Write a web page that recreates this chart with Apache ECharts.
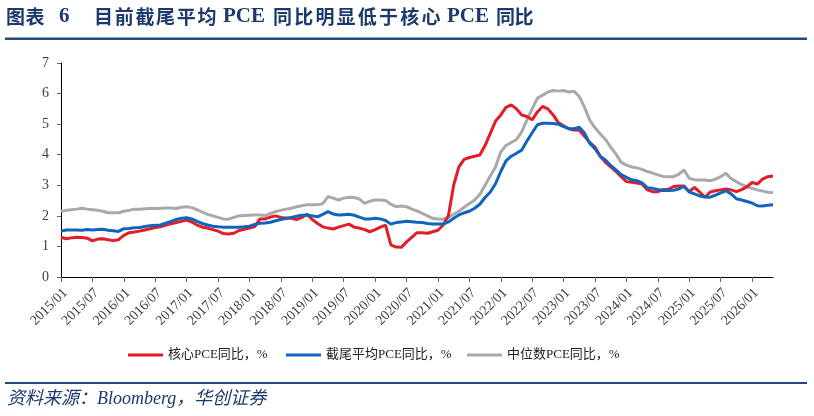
<!DOCTYPE html>
<html>
<head>
<meta charset="utf-8">
<script src="https://cdn.jsdelivr.net/npm/echarts@6/dist/echarts.min.js"></script>
<style>
  html, body { margin: 0; padding: 0; background: #fff; }
  #chart { width: 814px; height: 416px; }
</style>
</head>
<body>
<div id="chart"></div>
<script>
// 月度类目 2015/01 - 2026/05
var months = [];
for (var y = 2015; y <= 2026; y++) {
  for (var m = 1; m <= 12; m++) {
    if (y === 2026 && m > 5) break;
    months.push(y + '/' + (m < 10 ? '0' + m : m));
  }
}

// 核心PCE同比，%
var corePce = [
  1.30, 1.25, 1.28, 1.30, 1.29, 1.27, 1.18, 1.24, 1.25, 1.22, 1.19, 1.22,
  1.36, 1.45, 1.47, 1.50, 1.54, 1.58, 1.62, 1.64, 1.70, 1.74, 1.78, 1.82,
  1.86, 1.80, 1.70, 1.63, 1.60, 1.55, 1.50, 1.42, 1.41, 1.43, 1.52, 1.56,
  1.60, 1.65, 1.90, 1.90, 1.96, 2.00, 1.95, 1.92, 1.92, 1.88, 1.95, 2.05,
  1.88, 1.75, 1.64, 1.60, 1.57, 1.63, 1.68, 1.73, 1.63, 1.60, 1.55, 1.48,
  1.55, 1.63, 1.70, 1.05, 0.98, 0.97, 1.15, 1.30, 1.45, 1.45, 1.43, 1.48,
  1.53, 1.70, 2.00, 3.00, 3.60, 3.85, 3.91, 3.95, 3.99, 4.30, 4.70, 5.10,
  5.30, 5.55, 5.63, 5.50, 5.30, 5.25, 5.14, 5.40, 5.58, 5.50, 5.30, 5.05,
  4.95, 4.85, 4.81, 4.80, 4.60, 4.40, 4.25, 3.95, 3.75, 3.60, 3.45, 3.28,
  3.12, 3.10, 3.07, 3.04, 2.85, 2.79, 2.79, 2.86, 2.86, 2.96, 2.98, 2.98,
  2.79, 2.93, 2.78, 2.61, 2.78, 2.82, 2.85, 2.88, 2.85, 2.79, 2.86, 2.95,
  3.09, 3.04, 3.20, 3.28, 3.30
];

// 截尾平均PCE同比，%
var trimmedPce = [
  1.50, 1.54, 1.54, 1.54, 1.53, 1.55, 1.54, 1.55, 1.56, 1.53, 1.51, 1.49,
  1.58, 1.59, 1.61, 1.62, 1.65, 1.68, 1.69, 1.70, 1.76, 1.82, 1.88, 1.92,
  1.94, 1.90, 1.82, 1.75, 1.70, 1.66, 1.64, 1.63, 1.63, 1.63, 1.63, 1.64,
  1.66, 1.72, 1.76, 1.77, 1.79, 1.84, 1.88, 1.92, 1.95, 1.99, 2.02, 2.03,
  2.00, 1.97, 2.05, 2.14, 2.06, 2.03, 2.04, 2.05, 2.02, 1.96, 1.90, 1.90,
  1.92, 1.90, 1.85, 1.73, 1.78, 1.80, 1.82, 1.81, 1.79, 1.78, 1.75, 1.73,
  1.73, 1.73, 1.80, 1.92, 2.03, 2.10, 2.15, 2.25, 2.38, 2.60, 2.78, 3.05,
  3.45, 3.80, 3.95, 4.05, 4.15, 4.45, 4.72, 4.98, 5.03, 5.03, 5.02, 5.00,
  4.92, 4.85, 4.85, 4.90, 4.70, 4.37, 4.20, 3.95, 3.83, 3.65, 3.50, 3.35,
  3.26, 3.18, 3.15, 3.08, 2.92, 2.90, 2.86, 2.83, 2.83, 2.84, 2.88, 2.96,
  2.78, 2.72, 2.65, 2.62, 2.61, 2.68, 2.75, 2.82, 2.72, 2.56, 2.52, 2.47,
  2.42, 2.33, 2.32, 2.35, 2.36
];

// 中位数PCE同比，%
var medianPce = [
  2.14, 2.18, 2.20, 2.22, 2.25, 2.22, 2.20, 2.18, 2.15, 2.10, 2.10, 2.10,
  2.15, 2.18, 2.22, 2.22, 2.23, 2.24, 2.24, 2.25, 2.26, 2.26, 2.24, 2.28,
  2.30, 2.27, 2.20, 2.12, 2.05, 2.00, 1.95, 1.90, 1.89, 1.95, 2.00, 2.01,
  2.02, 2.03, 2.03, 2.01, 2.08, 2.14, 2.18, 2.22, 2.25, 2.30, 2.33, 2.36,
  2.36, 2.36, 2.40, 2.63, 2.58, 2.52, 2.58, 2.61, 2.60, 2.55, 2.41, 2.48,
  2.52, 2.52, 2.50, 2.38, 2.30, 2.32, 2.30, 2.22, 2.16, 2.08, 2.00, 1.92,
  1.90, 1.89, 1.95, 2.05, 2.15, 2.28, 2.40, 2.52, 2.70, 3.00, 3.30, 3.60,
  4.10, 4.30, 4.40, 4.50, 4.75, 5.14, 5.50, 5.85, 5.95, 6.05, 6.10, 6.08,
  6.10, 6.05, 6.08, 5.90, 5.55, 5.13, 4.88, 4.68, 4.50, 4.25, 4.02, 3.75,
  3.66, 3.60, 3.57, 3.52, 3.45, 3.40, 3.34, 3.29, 3.28, 3.28, 3.36, 3.50,
  3.23, 3.18, 3.17, 3.17, 3.15, 3.20, 3.28, 3.39, 3.22, 3.12, 3.02, 2.96,
  2.90, 2.85, 2.81, 2.77, 2.76
];

var seriesNames = ['核心PCE同比，%', '截尾平均PCE同比，%', '中位数PCE同比，%'];
var colors = ['#e31d25', '#0f65bd', '#a9a9a9'];

var chart = echarts.init(document.getElementById('chart'));

var titleColor = '#1c3a6e';
var cjkFont = 'bold 19px "Noto Sans CJK SC"';
var latinFont = 'bold 21px "Liberation Serif"';

// 标题：每个汉字单独排，字距较宽
function titleChars(str, x0, pitch) {
  var out = [];
  for (var i = 0; i < str.length; i++) {
    out.push({ type: 'text', x: x0 + i * pitch, y: 17,
      style: { text: str[i], fill: titleColor, font: cjkFont, verticalAlign: 'middle' } });
  }
  return out;
}
function titleWord(str, x0) {
  return { type: 'text', x: x0, y: 17,
    style: { text: str, fill: titleColor, font: latinFont, verticalAlign: 'middle' } };
}

var graphics = []
  .concat(titleChars('图表', 6, 19.5))
  .concat([titleWord('6', 59)])
  .concat(titleChars('目前截尾平均', 94, 20.7))
  .concat([titleWord('PCE', 223)])
  .concat(titleChars('同比明显低于核心', 273, 21.2))
  .concat([titleWord('PCE', 447)])
  .concat(titleChars('同比', 496, 18.5))
  .concat([
    { type: 'rect', shape: { x: 5, y: 37.5, width: 802, height: 2.5 }, style: { fill: '#24477f' } },
    { type: 'rect', shape: { x: 5, y: 382, width: 802, height: 2 }, style: { fill: '#24477f' } },
    { type: 'text', left: 7, top: 390,
      style: { text: '资料来源：Bloomberg，华创证券', fill: titleColor,
               font: 'italic 18px "Liberation Serif", "Noto Sans CJK SC"' } }
  ]);

var legendText = { fontFamily: 'Liberation Serif, Noto Sans CJK SC', fontSize: 13, color: '#222', lineHeight: 16 };
function legendAt(name, left) {
  return { data: [name], left: left, top: 347, padding: 0, icon: 'rect',
           itemWidth: 35, itemHeight: 3, itemGap: 0, textStyle: legendText };
}

chart.setOption({
  animation: false,
  color: colors,
  grid: { left: 61, right: 41, top: 63, bottom: 139, containLabel: false },
  graphic: graphics,
  legend: [
    legendAt(seriesNames[0], 128),
    legendAt(seriesNames[1], 286),
    legendAt(seriesNames[2], 467)
  ],
  xAxis: {
    type: 'category',
    data: months,
    boundaryGap: false,
    axisLine: { lineStyle: { color: '#000', width: 1 } },
    axisTick: { interval: 5, length: 5, lineStyle: { color: '#666' } },
    axisLabel: {
      interval: 5, rotate: 45, margin: 18, padding: [0, -6, 0, 0],
      fontFamily: 'Liberation Serif', fontSize: 14, color: '#404040'
    },
    splitLine: { show: false }
  },
  yAxis: {
    type: 'value',
    min: 0, max: 7, interval: 1,
    axisLine: { show: true, lineStyle: { color: '#000', width: 1 } },
    axisTick: { show: true, length: 4, lineStyle: { color: '#666' } },
    axisLabel: { margin: 12, fontFamily: 'Liberation Serif', fontSize: 14, color: '#404040' },
    splitLine: { show: false }
  },
  series: [
    { name: seriesNames[0], type: 'line', data: corePce, symbol: 'none', lineStyle: { width: 3 }, z: 4 },
    { name: seriesNames[1], type: 'line', data: trimmedPce, symbol: 'none', lineStyle: { width: 3 }, z: 5 },
    { name: seriesNames[2], type: 'line', data: medianPce, symbol: 'none', lineStyle: { width: 3 }, z: 3 }
  ]
});
</script>
</body>
</html>
